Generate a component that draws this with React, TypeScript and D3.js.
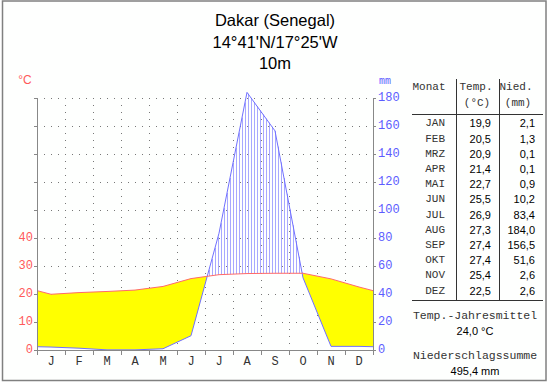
import React from "react";
import * as d3 from "d3";

const months = ["J", "F", "M", "A", "M", "J", "J", "A", "S", "O", "N", "D"];
const monthAbbr = ["JAN", "FEB", "MRZ", "APR", "MAI", "JUN", "JUL", "AUG", "SEP", "OKT", "NOV", "DEZ"];
const temps = [19.9, 20.5, 20.9, 21.4, 22.7, 25.5, 26.9, 27.3, 27.4, 27.4, 25.4, 22.5];
const precip = [2.1, 1.3, 0.1, 0.1, 0.9, 10.2, 83.4, 184.0, 156.5, 51.6, 2.6, 2.6];
const tempLabels = ["19,9", "20,5", "20,9", "21,4", "22,7", "25,5", "26,9", "27,3", "27,4", "27,4", "25,4", "22,5"];
const precipLabels = ["2,1", "1,3", "0,1", "0,1", "0,9", "10,2", "83,4", "184,0", "156,5", "51,6", "2,6", "2,6"];
const tempTicks = [0, 10, 20, 30, 40];
const precipTicks = [0, 20, 40, 60, 80, 100, 120, 140, 160, 180];
const gridLevels = [10, 20, 30, 40, 50, 60, 70, 80, 90];
const titleLines = ["Dakar (Senegal)", "14°41'N/17°25'W", "10m"];
const meanTemp = "24,0 °C";
const totalPrecip = "495,4 mm";

const MONO = "'Liberation Mono', 'Courier New', monospace";
const SANS = "'Liberation Sans', Arial, sans-serif";
const RED = "#ff5a5a";
const BLUE = "#5c5cff";

export default function App() {
  const x = d3.scaleLinear().domain([0, 12]).range([37, 373]);
  const y = d3.scaleLinear().domain([0, 90]).range([350, 98]); // °C
  const yP = (mm: number) => y(mm / 2);

  // series points: edges are average of Dec/Jan
  type Pt = { m: number; t: number; p: number };
  const edgeT = (temps[0] + temps[11]) / 2;
  const edgeP = (precip[0] + precip[11]) / 2 / 2;
  const base: Pt[] = [{ m: 0, t: edgeT, p: edgeP }];
  temps.forEach((t, i) => base.push({ m: i + 0.5, t, p: precip[i] / 2 }));
  base.push({ m: 12, t: edgeT, p: edgeP });

  // insert crossing points
  const pts: Pt[] = [];
  for (let i = 0; i < base.length; i++) {
    const a = base[i];
    pts.push(a);
    if (i < base.length - 1) {
      const b = base[i + 1];
      const da = a.t - a.p;
      const db = b.t - b.p;
      if (da * db < 0) {
        const f = da / (da - db);
        pts.push({ m: a.m + f * (b.m - a.m), t: a.t + f * (b.t - a.t), p: a.p + f * (b.p - a.p) });
      }
    }
  }

  const interp = (m: number) => {
    for (let i = 0; i < pts.length - 1; i++) {
      const a = pts[i], b = pts[i + 1];
      if (m >= a.m && m <= b.m) {
        const f = (m - a.m) / (b.m - a.m || 1);
        return { t: a.t + f * (b.t - a.t), p: a.p + f * (b.p - a.p) };
      }
    }
    return { t: pts[0].t, p: pts[0].p };
  };

  const arid = d3
    .area<Pt>()
    .x((d) => x(d.m))
    .y0((d) => y(Math.min(d.t, d.p)))
    .y1((d) => y(d.t));

  const tLine = d3.line<Pt>().x((d) => x(d.m)).y((d) => y(d.t));
  const pLine = d3.line<Pt>().x((d) => x(d.m)).y((d) => y(d.p));

  const hatch: { px: number; y1: number; y2: number }[] = [];
  for (let px = 38; px < 373; px += 3) {
    const v = interp(x.invert(px));
    if (v.p > v.t) hatch.push({ px, y1: y(v.t), y2: y(v.p) });
  }

  const rowY = (i: number) => 123.3 + 15.2 * i;

  return (
    <svg width={550} height={384} style={{ position: "absolute", left: 0, top: 0, background: "#fff" }}>
      <rect x={2.5} y={1} width={543.5} height={379.5} fill="#fefffe" stroke="#808080" strokeWidth={1.5} />

      {titleLines.map((t, i) => (
        <text key={i} x={275} y={[20, 42, 63][i]} textAnchor="middle" dominantBaseline="central" fontFamily={SANS} fontSize={16.5} fill="#000">
          {t}
        </text>
      ))}

      {/* grid */}
      {gridLevels.map((g) => (
        <line key={"h" + g} x1={x(0)} x2={x(12)} y1={y(g) + 0.5} y2={y(g) + 0.5} stroke="#777" strokeDasharray="1 6" />
      ))}
      {d3.range(1, 12).map((k) => (
        <line key={"v" + k} x1={x(k) + 0.5} x2={x(k) + 0.5} y1={y(90)} y2={y(0)} stroke="#777" strokeDasharray="1 6" />
      ))}

      {/* arid fill */}
      <path d={arid(pts) || ""} fill="#ffff00" stroke="none" />

      {/* humid hatching */}
      {hatch.map((h, i) => (
        <line key={"ht" + i} x1={h.px + 0.5} x2={h.px + 0.5} y1={h.y1} y2={h.y2} stroke="#a8a8ff" strokeWidth={1} />
      ))}

      <path d={pLine(pts) || ""} fill="none" stroke="#7070ff" strokeWidth={1} />
      <path d={tLine(pts) || ""} fill="none" stroke="#ff6a6a" strokeWidth={1} />

      {/* axes */}
      <line x1={x(0) + 0.5} x2={x(0) + 0.5} y1={y(90)} y2={y(0) + 5} stroke="#888" />
      <line x1={x(12) + 0.5} x2={x(12) + 0.5} y1={y(90)} y2={y(0) + 5} stroke="#888" />
      <line x1={x(0)} x2={x(12)} y1={y(0) + 0.5} y2={y(0) + 0.5} stroke="#888" />
      {d3.range(0, 13).map((k) => (
        <line key={"bt" + k} x1={x(k) + 0.5} x2={x(k) + 0.5} y1={y(0)} y2={y(0) + 5} stroke="#888" />
      ))}
      {gridLevels.concat([0]).map((g) => (
        <line key={"lt" + g} x1={x(0) - 3} x2={x(0)} y1={y(g) + 0.5} y2={y(g) + 0.5} stroke="#888" />
      ))}
      {precipTicks.map((p) => (
        <line key={"rt" + p} x1={x(12)} x2={x(12) + 3} y1={yP(p) + 0.5} y2={yP(p) + 0.5} stroke="#888" />
      ))}

      {tempTicks.map((t) => (
        <text key={"tl" + t} x={33} y={y(t)} textAnchor="end" dominantBaseline="central" fontFamily={MONO} fontSize={12} fill={RED}>
          {t}
        </text>
      ))}
      {precipTicks.map((p) => (
        <text key={"pl" + p} x={378} y={yP(p)} textAnchor="start" dominantBaseline="central" fontFamily={MONO} fontSize={12} fill={BLUE}>
          {p}
        </text>
      ))}
      {months.map((m, i) => (
        <text key={"m" + i} x={x(i + 0.5)} y={362} textAnchor="middle" dominantBaseline="central" fontFamily={MONO} fontSize={12} fill="#333">
          {m}
        </text>
      ))}
      <text x={25} y={80} textAnchor="middle" dominantBaseline="central" fontFamily={SANS} fontSize={12} fill={RED}>°C</text>
      <text x={385} y={81} textAnchor="middle" dominantBaseline="central" fontFamily={MONO} fontSize={10} fill={BLUE}>mm</text>

      {/* table */}
      <line x1={412} x2={543} y1={114.5} y2={114.5} stroke="#333" />
      <line x1={412} x2={543} y1={300.5} y2={300.5} stroke="#333" />
      <line x1={456.5} x2={456.5} y1={79} y2={300} stroke="#333" />
      <line x1={499.5} x2={499.5} y1={79} y2={300} stroke="#333" />
      <text x={429} y={87} textAnchor="middle" dominantBaseline="central" fontFamily={MONO} fontSize={11} fill="#333">Monat</text>
      <text x={476} y={87} textAnchor="middle" dominantBaseline="central" fontFamily={MONO} fontSize={11} fill="#333">Temp.</text>
      <text x={477} y={103} textAnchor="middle" dominantBaseline="central" fontFamily={MONO} fontSize={11} fill="#333">(°C)</text>
      <text x={516} y={87} textAnchor="middle" dominantBaseline="central" fontFamily={MONO} fontSize={11} fill="#333">Nied.</text>
      <text x={518} y={103} textAnchor="middle" dominantBaseline="central" fontFamily={MONO} fontSize={11} fill="#333">(mm)</text>
      {monthAbbr.map((m, i) => (
        <g key={"row" + i}>
          <text x={445} y={rowY(i)} textAnchor="end" dominantBaseline="central" fontFamily={MONO} fontSize={11} fill="#333">{m}</text>
          <text x={491} y={rowY(i)} textAnchor="end" dominantBaseline="central" fontFamily={SANS} fontSize={11} fill="#000">{tempLabels[i]}</text>
          <text x={535} y={rowY(i)} textAnchor="end" dominantBaseline="central" fontFamily={SANS} fontSize={11} fill="#000">{precipLabels[i]}</text>
        </g>
      ))}
      <text x={475} y={315.5} textAnchor="middle" dominantBaseline="central" fontFamily={MONO} fontSize={11.5} fill="#333">Temp.-Jahresmittel</text>
      <text x={475} y={330.5} textAnchor="middle" dominantBaseline="central" fontFamily={SANS} fontSize={11} fill="#000">{meanTemp}</text>
      <text x={475} y={355} textAnchor="middle" dominantBaseline="central" fontFamily={MONO} fontSize={11.5} fill="#333">Niederschlagssumme</text>
      <text x={475} y={370.5} textAnchor="middle" dominantBaseline="central" fontFamily={SANS} fontSize={11} fill="#000">{totalPrecip}</text>
    </svg>
  );
}
